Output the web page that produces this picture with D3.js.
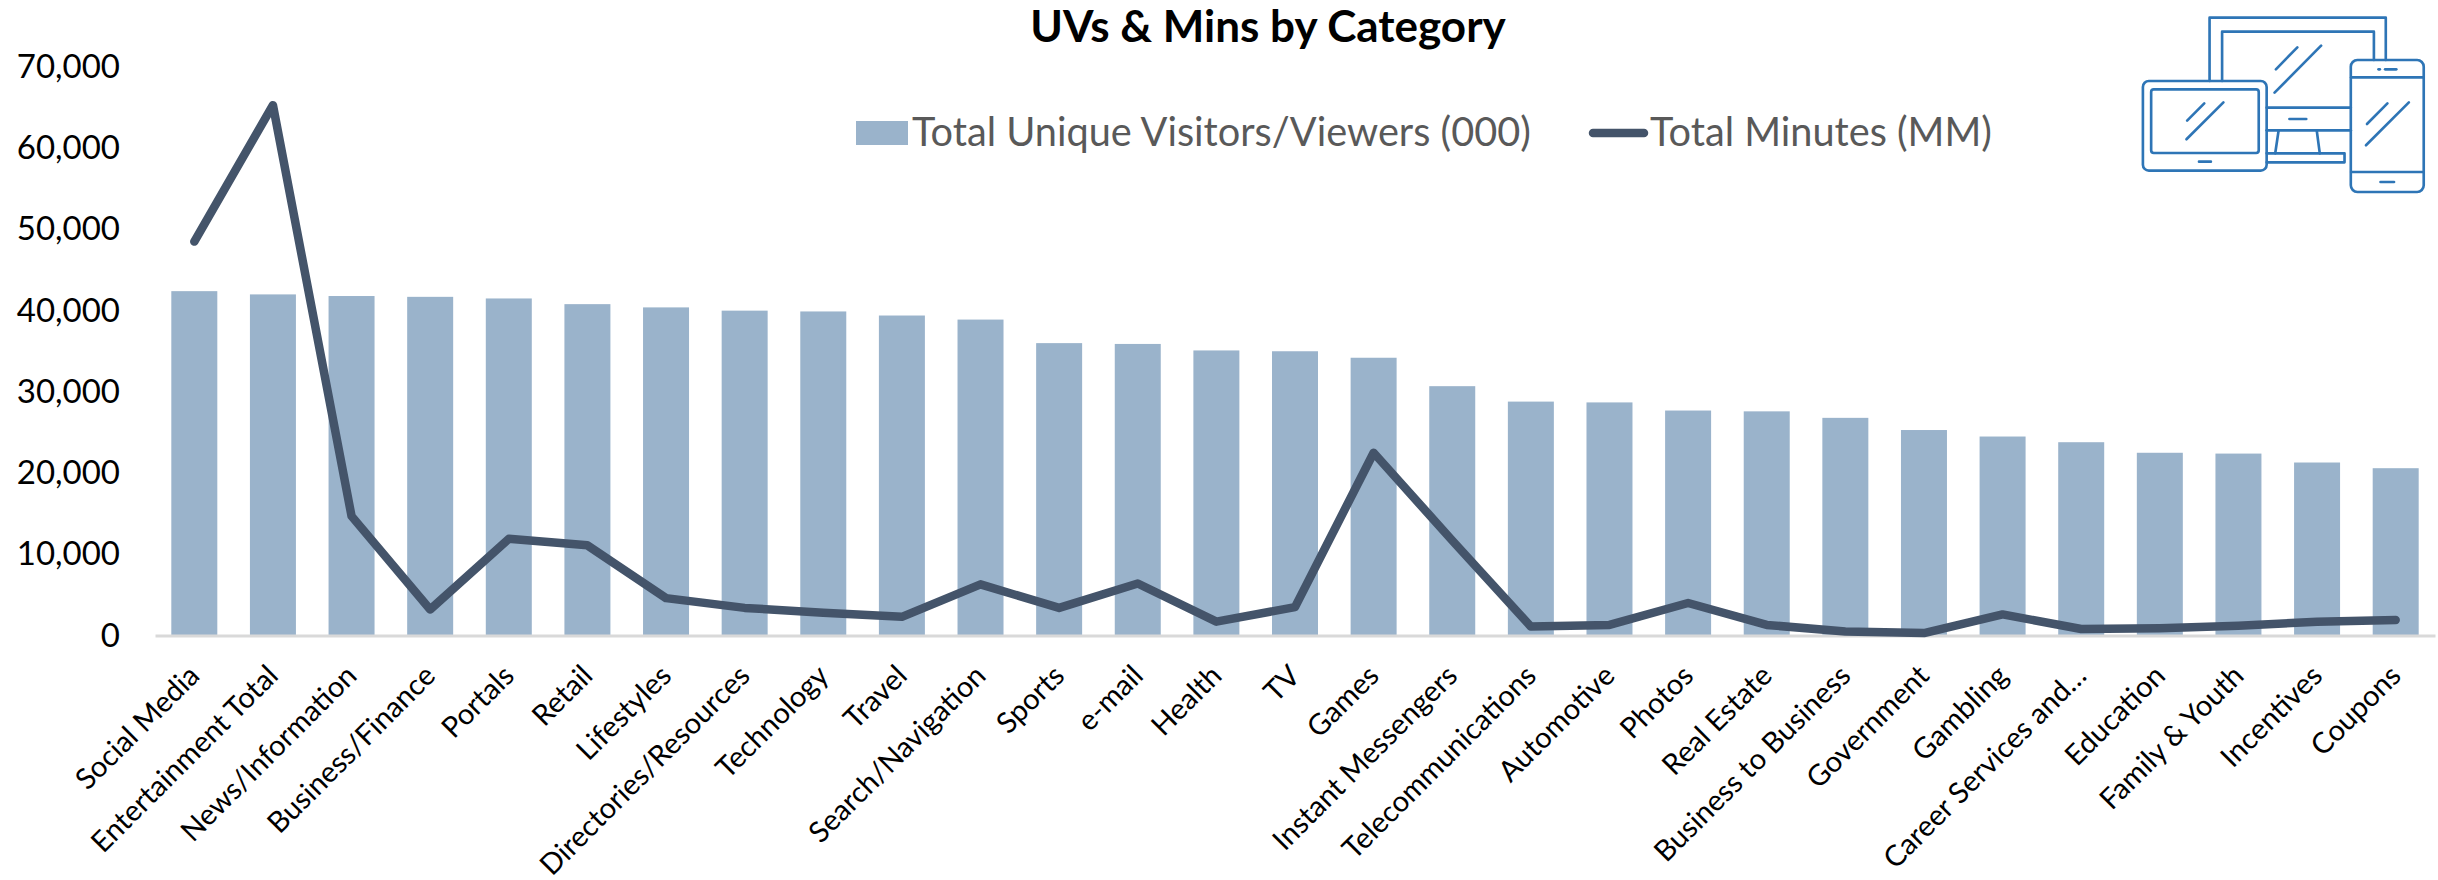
<!DOCTYPE html>
<html><head><meta charset="utf-8"><style>html,body{margin:0;background:#fff}svg{display:block}text{font-family:Lato,"Noto Sans",sans-serif}</style>
<script src="https://cdn.jsdelivr.net/npm/d3@7"></script></head><body>
<svg id="c" width="2438" height="880"></svg>
<script>
const categories=["Social Media","Entertainment Total","News/Information","Business/Finance","Portals","Retail","Lifestyles","Directories/Resources","Technology","Travel","Search/Navigation","Sports","e-mail","Health","TV","Games","Instant Messengers","Telecommunications","Automotive","Photos","Real Estate","Business to Business","Government","Gambling","Career Services and…","Education","Family & Youth","Incentives","Coupons"];
const visitors=[42400,42000,41800,41700,41500,40800,40400,40000,39900,39400,38900,36000,35900,35100,35000,34200,30700,28800,28700,27700,27600,26800,25300,24500,23800,22500,22400,21300,20600];
const minutes=[48500,65300,14700,3200,11900,11100,4600,3400,2800,2300,6300,3400,6400,1700,3500,22500,11700,1100,1300,4000,1300,500,300,2600,800,900,1200,1700,1900];
const yTicks=[0,10000,20000,30000,40000,50000,60000,70000];
const titleText="UVs & Mins by Category";
const seriesNames=["Total Unique Visitors/Viewers (000)","Total Minutes (MM)"];

const svg=d3.select("#c");
const x=d3.scaleBand().domain(categories).range([155,2435]).paddingInner(0.415).paddingOuter(0.2075);
const y=d3.scaleLinear().domain([0,70000]).range([635.5,67]);

svg.append("g").selectAll("rect").data(categories).join("rect")
 .attr("x",d=>x(d)).attr("width",x.bandwidth())
 .attr("y",(d,i)=>y(visitors[i])).attr("height",(d,i)=>y(0)-y(visitors[i])).attr("fill","#9ab3cb");

const yAxis=d3.axisLeft(y).tickValues(yTicks).tickFormat(d3.format(",")).tickSize(0).tickPadding(0);
const gy=svg.append("g").attr("transform","translate(120,0)").call(yAxis);
gy.select(".domain").remove();
gy.selectAll("text").attr("font-size",33).attr("fill","#000").style("font-family","Lato");

const xAxis=d3.axisBottom(x).tickSize(0).tickPadding(0);
const gx=svg.append("g").attr("transform",`translate(0,${y(0)})`).call(xAxis);
gx.select(".domain").attr("stroke","#d9d9d9").attr("stroke-width",3);
gx.selectAll("text").attr("font-size",29).attr("fill","#000").style("font-family","Lato")
 .attr("text-anchor","end").attr("dy",0).attr("y",0)
 .attr("transform","translate(7,42) rotate(-45)");

const line=d3.line().x((d,i)=>x(categories[i])+x.bandwidth()/2).y(d=>y(d));
svg.append("path").datum(minutes).attr("d",line).attr("fill","none").attr("stroke","#44546a").attr("stroke-width",8.5).attr("stroke-linecap","round").attr("stroke-linejoin","round");

svg.append("text").attr("x",1268).attr("y",42).attr("text-anchor","middle").attr("font-size",44).attr("font-weight",700).attr("fill","#000").text(titleText);

svg.append("rect").attr("x",856).attr("y",121).attr("width",52).attr("height",24).attr("fill","#9ab3cb");
svg.append("text").attr("x",912).attr("y",146).attr("font-size",39.7).attr("fill","#595959").text(seriesNames[0]);
svg.append("line").attr("x1",1593).attr("x2",1644).attr("y1",133).attr("y2",133).attr("stroke","#44546a").attr("stroke-width",8.5).attr("stroke-linecap","round");
svg.append("text").attr("x",1650).attr("y",146).attr("font-size",39.7).attr("fill","#595959").text(seriesNames[1]);

// device icon (decoration)
const ic=svg.append("g").attr("transform","translate(2100,0) scale(0.33,0.3333)").attr("fill","none").attr("stroke","#2e75b6").attr("stroke-width",8).attr("stroke-linecap","round").attr("stroke-linejoin","round");
const paths=["M332 243V53H866V180","M370 243V95H830V180",
"M533 208L598 142","M529 278L670 137",
"M505 323H760","M505 391H760","M574 357H625",
"M541 393L531 460","M657 393L666 460","M505 460H741V487H505",
"M264 362L316 310","M262 418L374 307","M300 485H336",
"M761 232H980","M761 516H980","M864 208H898","M844 208H848","M850 546H891",
"M809 372L871 310","M806 436L936 307"];
paths.forEach(d=>ic.append("path").attr("d",d));
ic.append("rect").attr("x",130).attr("y",243).attr("width",375).attr("height",269).attr("rx",18);
ic.append("rect").attr("x",155).attr("y",268).attr("width",326).attr("height",191).attr("rx",8);
ic.append("rect").attr("x",760).attr("y",180).attr("width",221).attr("height",396).attr("rx",20);
</script></body></html>
